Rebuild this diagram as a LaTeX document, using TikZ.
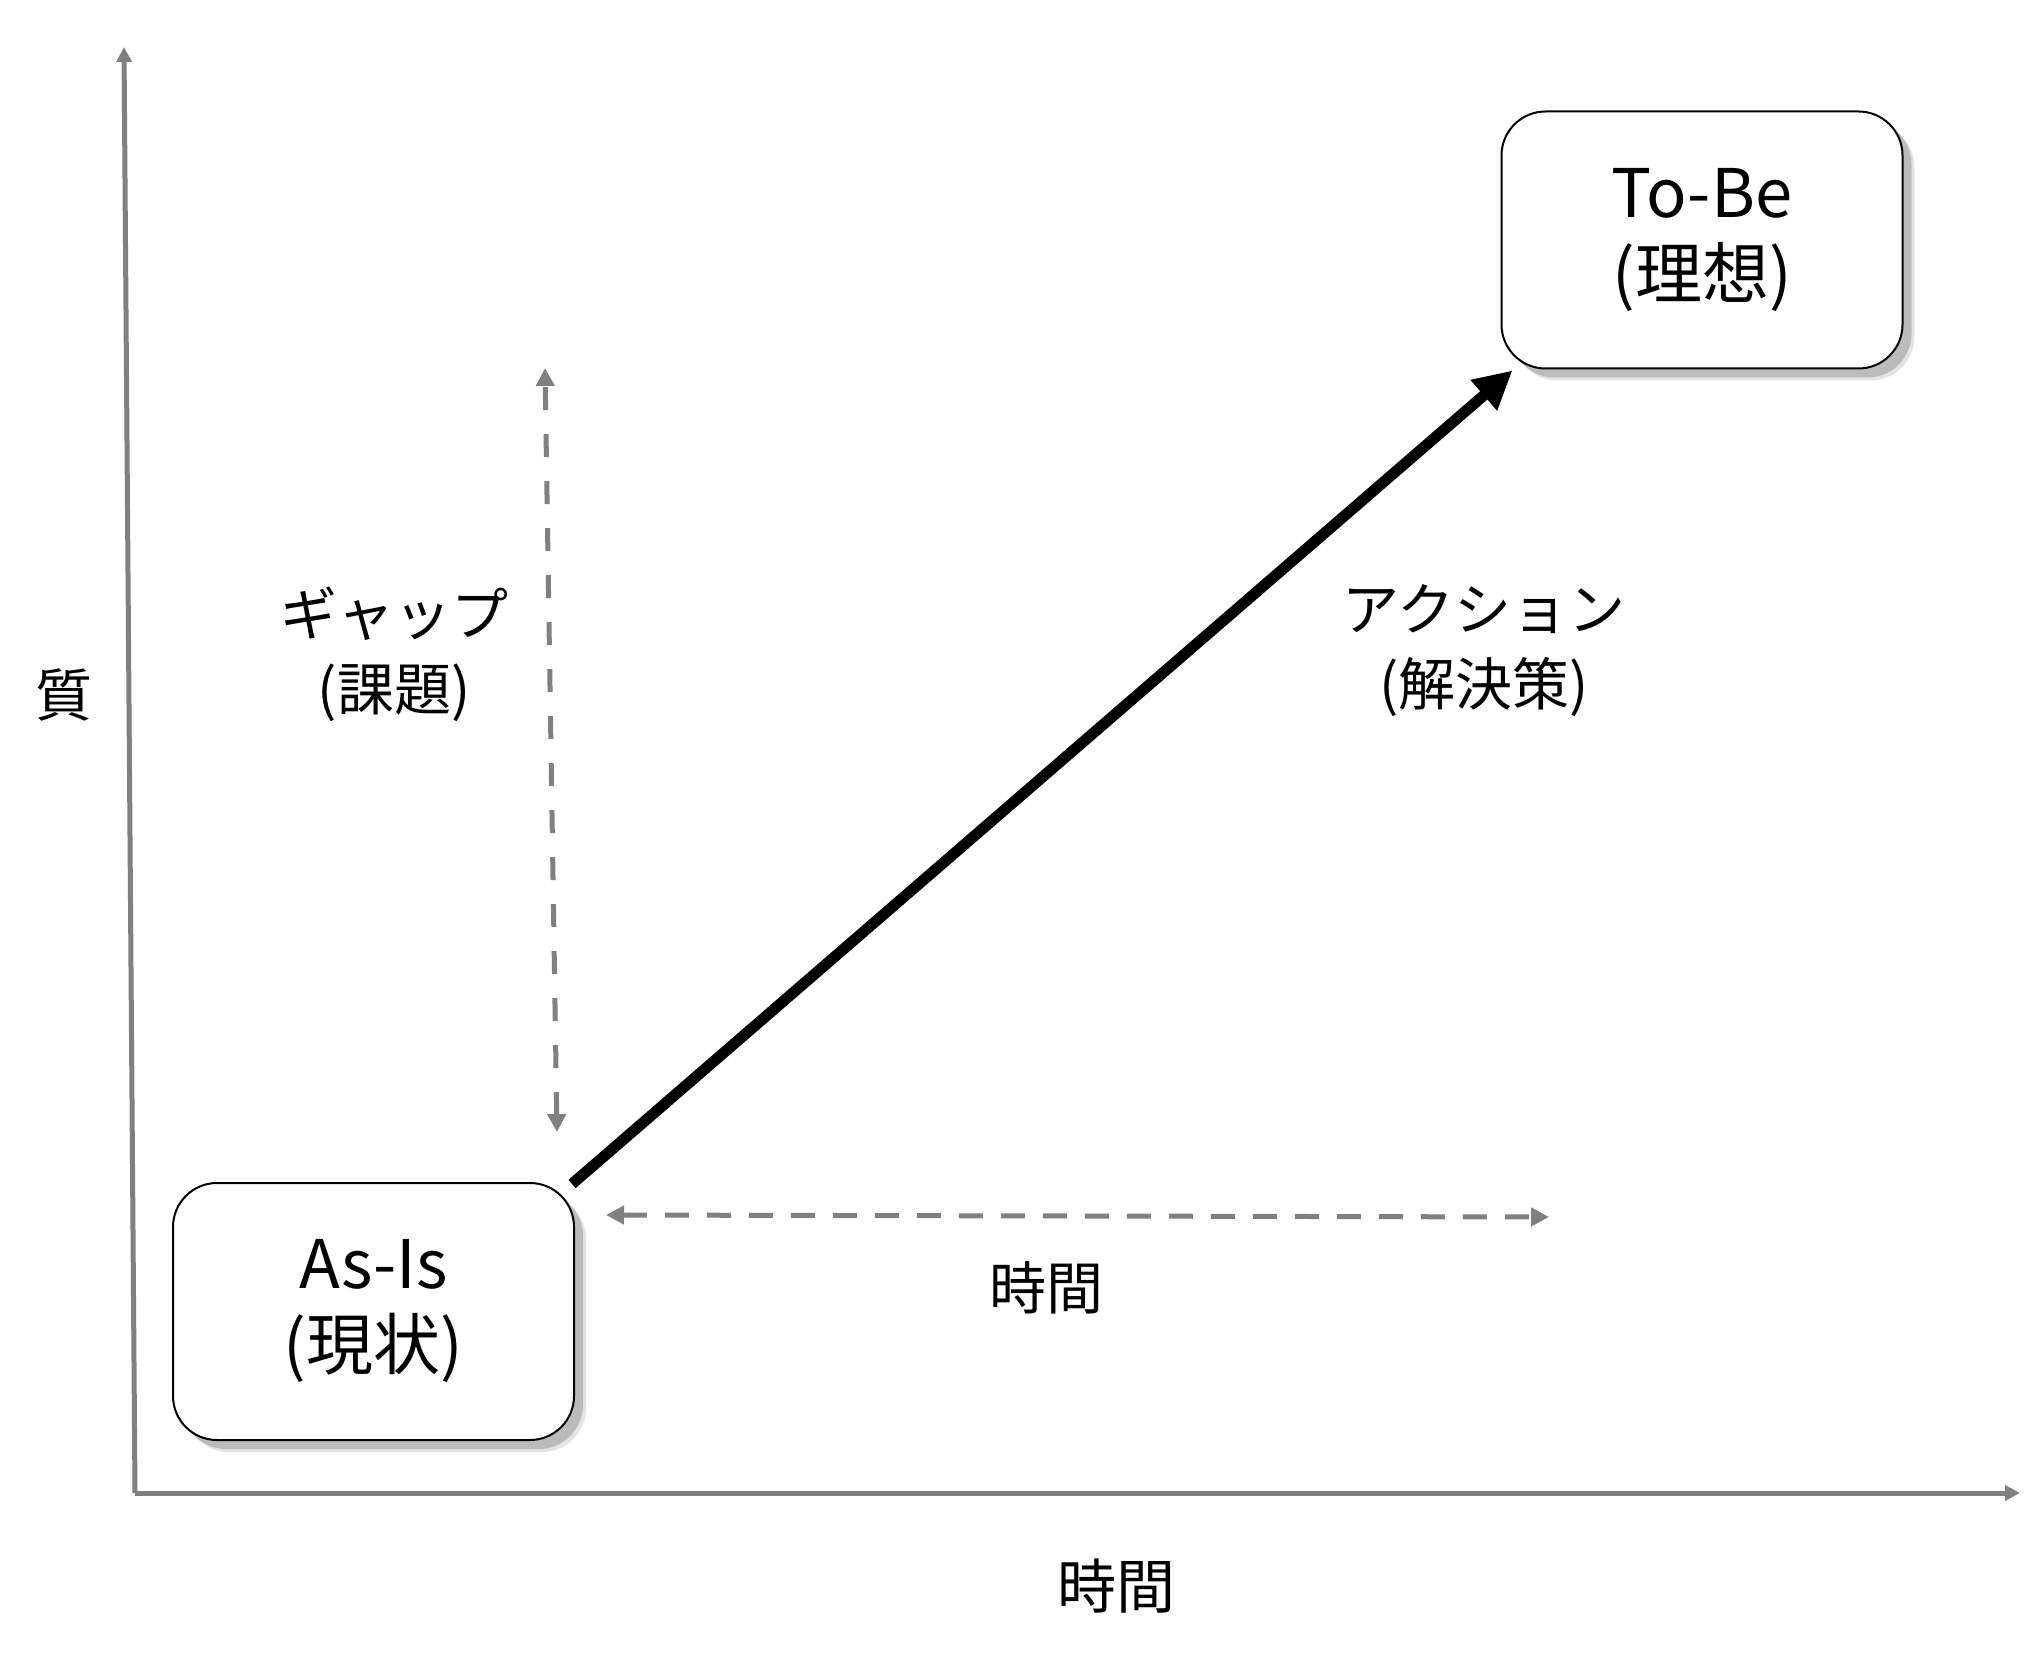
\documentclass[tikz,border=0pt]{standalone}
\usepackage{fontspec}
\setmainfont{Noto Sans CJK JP}
\usetikzlibrary{arrows.meta,shadows,calc}
\begin{document}
\begin{tikzpicture}[x=0.5pt,y=-0.5pt,
  box/.style={draw=black,line width=1pt,fill=white,rounded corners=22pt,
    minimum width=200.5pt,minimum height=128.5pt,inner sep=0pt,align=center,
    font=\fontsize{33.5}{40.5}\selectfont,
    drop shadow={shadow xshift=6pt,shadow yshift=-6pt,fill=black!22},
    drop shadow={shadow xshift=4.5pt,shadow yshift=-4.5pt,fill=black!42}},
  lbl/.style={align=center,inner sep=0pt,font=\fontsize{28.5}{37.5}\selectfont},
  biglbl/.style={align=center,inner sep=0pt,font=\fontsize{29.5}{36}\selectfont},
  axisline/.style={draw=gray,line width=2.5pt,-{Triangle[length=7.5pt,width=7.5pt]}},
  gaparrow/.style={draw=gray,line width=2.5pt,dash pattern=on 11.5pt off 12pt,
    {Triangle[length=9pt,width=9pt]}-{Triangle[length=9pt,width=9pt]}},
  timearrow/.style={draw=gray,line width=2.5pt,dash pattern=on 12pt off 9pt,
    {Triangle[length=9pt,width=9pt]}-{Triangle[length=9pt,width=9pt]}},
  actarrow/.style={draw=black,line width=5.5pt,-{Triangle[length=19pt,width=19pt]}}
]
\useasboundingbox (0,0) rectangle (2035,1658);
% axes
\coordinate (origin) at (135,1493);
\coordinate (ytop) at (124,47);
\coordinate (xend) at (2020,1493);
\draw[axisline] (origin) -- (ytop);
\draw[axisline] (origin) -- (xend);
% boxes
\node[box] (asis) at (373.5,1311.5) {As-Is\\(現状)};
\node[box] (tobe) at (1702,240) {To-Be\\(理想)};
% action arrow
\draw[actarrow] ($(asis.north east)+(-3,2)$) -- ($(tobe.south west)+(12,1)$);
% gap arrow
\coordinate (gtop) at (545,368);
\coordinate (gbot) at (557,1132);
\draw[gaparrow] (gbot) -- (gtop);
% time arrow
\coordinate (tleft) at (606,1215);
\coordinate (tright) at (1549,1217);
\draw[timearrow] (tleft) -- (tright);
% labels
\node[lbl] (gap) at (394,654) {ギャップ\\(課題)};
\node[lbl] (act) at (1484,651) {アクション\\(解決策)};
\node[lbl] (time1) at (1046,1288) {時間};
\node[biglbl] (time2) at (1116,1586) {時間};
\node[lbl] (qual) at (64,695) {質};
\end{tikzpicture}
\end{document}
